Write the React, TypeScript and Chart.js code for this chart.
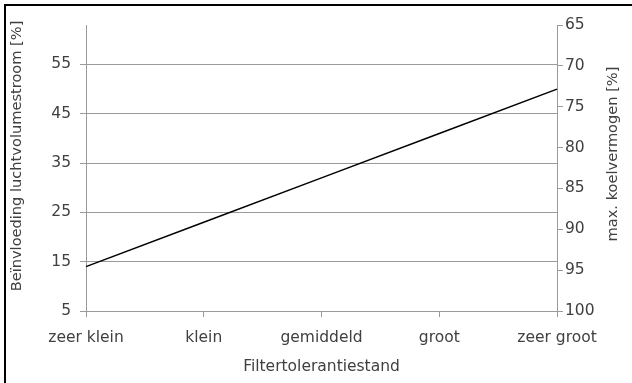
import React, { useEffect, useRef } from "react";
import { Chart, registerables } from "chart.js";

Chart.register(...registerables);

const categories = ["zeer klein", "klein", "gemiddeld", "groot", "zeer groot"];
const airflowImpact = [14, 23, 32, 41, 50];
const leftTicks = [5, 15, 25, 35, 45, 55];
const rightTicks = [65, 70, 75, 80, 85, 90, 95, 100];
const leftTitle = "Beïnvloeding luchtvolumestroom [%]";
const rightTitle = "max. koelvermogen [%]";
const xTitle = "Filtertolerantiestand";

const FONT = "'DejaVu Sans', sans-serif";
const TEXT = "#404040";
const GRID = "#9a9a9a";
const SIZE = 15.5;
const SIDE_SIZE = 14.6;

const titlesPlugin = {
  id: "sideTitles",
  afterDraw(chart: any) {
    const ctx = chart.ctx;
    const a = chart.chartArea;
    const cy = (a.top + a.bottom) / 2;
    ctx.save();
    ctx.fillStyle = TEXT;
    ctx.font = `${SIDE_SIZE}px ${FONT}`;
    ctx.textAlign = "center";
    ctx.textBaseline = "middle";
    ctx.save();
    ctx.translate(17, cy - 12);
    ctx.rotate(-Math.PI / 2);
    ctx.fillText(leftTitle, 0, 0);
    ctx.restore();
    ctx.save();
    ctx.translate(chart.width - 19, cy - 14);
    ctx.rotate(-Math.PI / 2);
    ctx.fillText(rightTitle, 0, 0);
    ctx.restore();
    ctx.restore();
  },
};

export default function App() {
  const ref = useRef<HTMLCanvasElement>(null);
  useEffect(() => {
    if (!ref.current) return;
    const font = { family: FONT, size: SIZE };
    const chart = new Chart(ref.current, {
      type: "line",
      data: {
        labels: categories,
        datasets: [
          {
            data: airflowImpact,
            borderColor: "#000",
            borderWidth: 1.5,
            pointRadius: 0,
            tension: 0,
            fill: false,
            yAxisID: "y",
          },
        ],
      },
      options: {
        responsive: false,
        animation: false,
        layout: { padding: { top: 25, left: 0, right: 0, bottom: 0 } },
        plugins: { legend: { display: false }, tooltip: { enabled: false } },
        scales: {
          x: {
            offset: false,
            grid: { drawOnChartArea: false, drawTicks: true, tickLength: 6, color: GRID },
            border: { display: true, color: GRID },
            ticks: { color: TEXT, font, padding: 12, maxRotation: 0, autoSkip: false },
            title: { display: true, text: xTitle, color: TEXT, font, padding: { top: 0, bottom: 7 } },
            afterFit(scale: any) { scale.height = 72; },
          },
          y: {
            position: "left",
            min: 5,
            max: 63,
            afterBuildTicks(scale: any) { scale.ticks = leftTicks.map((v) => ({ value: v })); },
            grid: { color: GRID, tickLength: 6, drawTicks: true },
            border: { display: true, color: GRID },
            ticks: { color: TEXT, font, padding: 9 },
            afterFit(scale: any) { scale.width = 86; },
          },
          y2: {
            position: "right",
            reverse: true,
            min: 65,
            max: 100,
            afterBuildTicks(scale: any) { scale.ticks = rightTicks.map((v) => ({ value: v })); },
            grid: { drawOnChartArea: false, color: GRID, tickLength: 6, drawTicks: true },
            border: { display: true, color: GRID },
            ticks: { color: TEXT, font, padding: 2 },
            afterFit(scale: any) { scale.width = 75; },
          },
        },
      },
      plugins: [titlesPlugin],
    });
    return () => chart.destroy();
  }, []);
  return (
    <div style={{ position: "fixed", left: 0, top: 0, width: 632, height: 383, background: "#fff" }}>
      <div style={{ position: "absolute", left: 4, top: 4, right: 0, bottom: 0, borderTop: "2px solid #000", borderLeft: "2px solid #000" }} />
      <canvas ref={ref} width={632} height={383} style={{ position: "absolute", left: 0, top: 0 }} />
    </div>
  );
}
